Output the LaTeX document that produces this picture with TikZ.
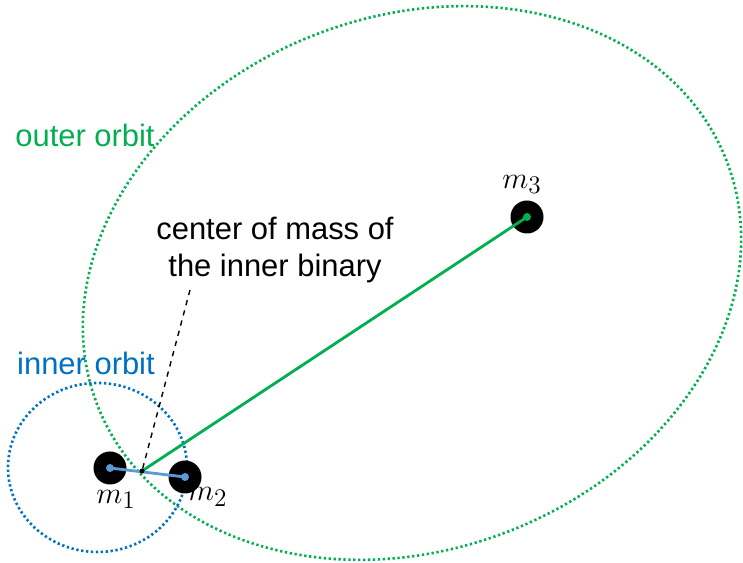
\documentclass[tikz,border=0pt]{standalone}
\usepackage{fontspec}
\setmainfont{Liberation Sans}
\usetikzlibrary{positioning}
\definecolor{orbgreen}{HTML}{00B050}
\definecolor{orbblue}{HTML}{0070C0}
\definecolor{orblight}{HTML}{5B9BD5}

\begin{document}
\begin{tikzpicture}[
    font=\fontsize{17.6}{21}\selectfont,
    body/.style={circle, fill=black, minimum size=0.66cm, inner sep=0pt},
    core/.style={circle, minimum size=0.16cm, inner sep=0pt},
    orbit/.style={line width=1.5pt, dash pattern=on 1.3pt off 1.5pt},
    masslbl/.style={font=\fontsize{19}{22}\selectfont},
  ]
    \useasboundingbox (0,0) rectangle (14.86,11.26);

    % orbits
    \draw[orbit, orbgreen, rotate around={21.2:(8.24,5.6)}]
      (8.24,5.6) ellipse [x radius=6.75cm, y radius=5.33cm];
    \draw[orbit, orbblue] (1.95,1.91) ellipse [x radius=1.79cm, y radius=1.69cm];

    % bodies
    \node[body] (m1) at (2.2,1.9)   {};
    \node[body] (m2) at (3.7,1.72)  {};
    \node[body] (m3) at (10.54,6.92) {};
    \coordinate (cm) at (2.84,1.84);

    \draw[orblight, line width=1.6pt] (m1.center) -- (m2.center);
    \draw[orbgreen, line width=1.6pt] (cm) -- (m3.center);
    \node[core, fill=orblight] at (m1.center) {};
    \node[core, fill=orblight] at (m2.center) {};
    \node[core, fill=orbgreen] at (m3.center) {};
    \fill[black] (cm) circle (0.05);

    \node[masslbl, below=-0.02cm of m1, xshift=0.12cm] (l1) {$m_1$};
    \node[masslbl, below right=-0.16cm and -0.3cm of m2] (l2) {$m_2$};
    \node[masslbl, above=0.0cm of m3, xshift=-0.1cm] (l3) {$m_3$};

    % labels
    \node[orbgreen] (outer) at (1.7,8.56) {outer orbit};
    \node[orbblue]  (inner) at (1.72,4.0) {inner orbit};
    \node[align=center] (cmtext) at (5.5,6.26) {center of mass of\\the inner binary};
    \coordinate (tip) at (3.8,5.46);
    \draw[black, thick, dashed] (tip) -- (cm);
  \end{tikzpicture}
\end{document}
